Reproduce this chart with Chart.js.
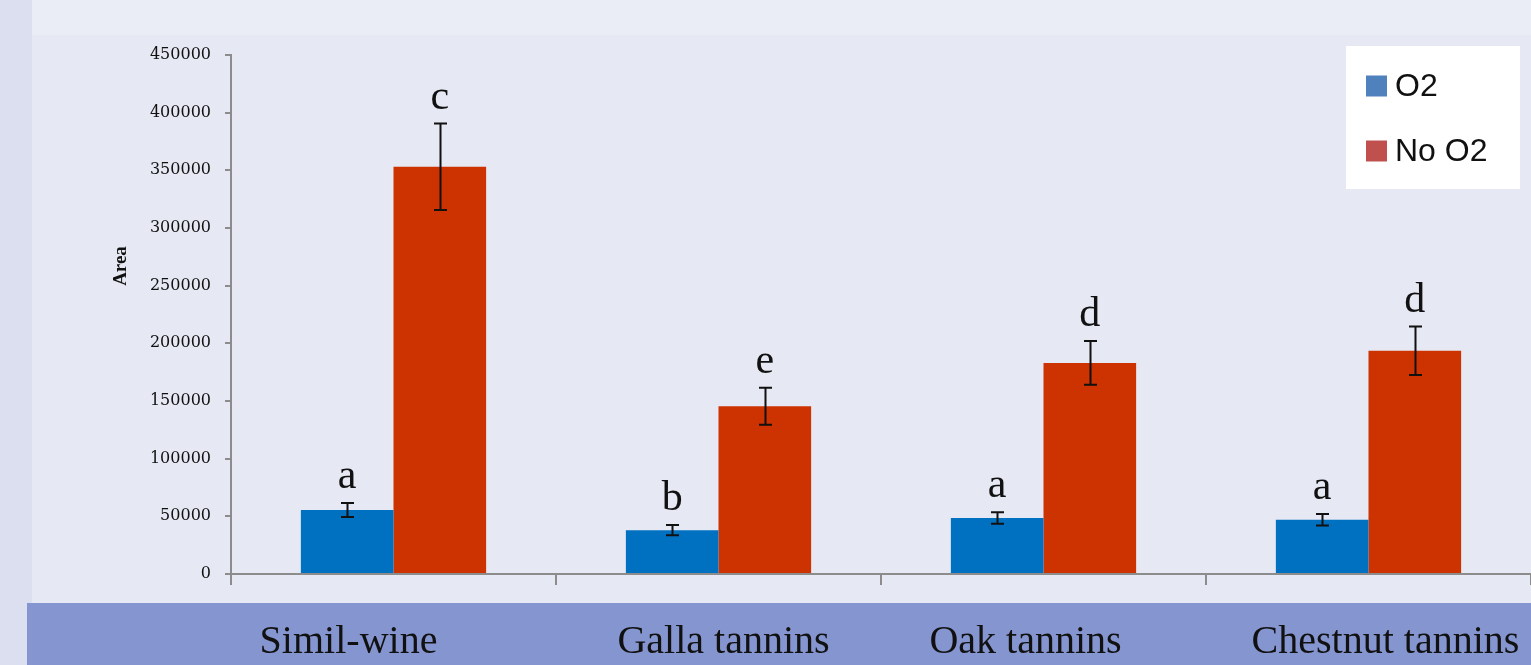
<!DOCTYPE html>
<html>
<head>
<meta charset="utf-8">
<script src="https://cdn.jsdelivr.net/npm/chart.js@4/dist/chart.umd.min.js"></script>
<style>
  html, body { margin: 0; padding: 0; background: #e6e8f3; }
  #wrap { width: 1531px; height: 665px; position: relative; }
</style>
</head>
<body>
<div id="wrap"><canvas id="c" width="1531" height="665"></canvas></div>
<script>
// Peak area per treatment, with and without oxygen
const categories = ['Simil-wine', 'Galla tannins', 'Oak tannins', 'Chestnut tannins'];
const o2Values = [55500, 38000, 48500, 47000];
const noO2Values = [353000, 145500, 183000, 193500];
const o2Errors = [6000, 4500, 5000, 5000];
const noO2Errors = [37500, 16000, 19000, 21000];
const o2Letters = ['a', 'b', 'a', 'a'];
const noO2Letters = ['c', 'e', 'd', 'd'];
const yTicks = [0, 50000, 100000, 150000, 200000, 250000, 300000, 350000, 400000, 450000];

const AXIS = '#8c8c8c';

// Page background, the slide panels and the category band
const backdrop = {
  id: 'backdrop',
  beforeDraw(chart) {
    const ctx = chart.ctx;
    const W = chart.width, H = chart.height;
    ctx.save();
    ctx.fillStyle = '#dcdfef';
    ctx.fillRect(0, 0, W, H);
    ctx.fillStyle = '#eaecf6';
    ctx.fillRect(32, 0, W - 32, 35);
    ctx.fillStyle = '#e6e8f3';
    ctx.fillRect(32, 35, W - 32, H - 35);
    ctx.fillStyle = '#8595cf';
    ctx.fillRect(27, 603, W - 27, H - 603);
    ctx.restore();
  }
};

// Error bars and significance letters above each bar
const errorBars = {
  id: 'errorBars',
  afterDatasetsDraw(chart) {
    const ctx = chart.ctx;
    const y = chart.scales.y;
    ctx.save();
    chart.data.datasets.forEach((ds, di) => {
      const meta = chart.getDatasetMeta(di);
      meta.data.forEach((bar, i) => {
        const v = ds.data[i], e = ds.errors[i];
        const top = y.getPixelForValue(v + e);
        const bot = y.getPixelForValue(v - e);
        const x = Math.round(bar.x) + 0.5;
        ctx.strokeStyle = '#111';
        ctx.lineWidth = 2;
        ctx.beginPath();
        ctx.moveTo(x, top); ctx.lineTo(x, bot);
        ctx.moveTo(x - 6.5, top); ctx.lineTo(x + 6.5, top);
        ctx.moveTo(x - 6.5, bot); ctx.lineTo(x + 6.5, bot);
        ctx.stroke();
        ctx.fillStyle = '#111';
        ctx.font = '42px "Liberation Serif"';
        ctx.textAlign = 'center';
        ctx.textBaseline = 'alphabetic';
        ctx.fillText(ds.letters[i], bar.x, top - 15);
      });
    });
    ctx.restore();
  }
};

// Axis title, category names in the band, and the legend box
const decorations = {
  id: 'decorations',
  afterDraw(chart) {
    const ctx = chart.ctx;
    const x = chart.scales.x;
    ctx.save();
    // y-axis title
    ctx.translate(121, 266);
    ctx.rotate(-Math.PI / 2);
    ctx.fillStyle = '#111';
    ctx.font = 'bold 19px "Liberation Serif"';
    ctx.textAlign = 'center';
    ctx.textBaseline = 'middle';
    ctx.fillText('Area', 0, 0);
    ctx.restore();

    // category names
    const shift = [-45, 5, -18, 17];
    ctx.save();
    ctx.fillStyle = '#111';
    ctx.font = '40px "Liberation Serif"';
    ctx.textAlign = 'center';
    ctx.textBaseline = 'alphabetic';
    categories.forEach((c, i) => {
      ctx.fillText(c, x.getPixelForValue(i) + shift[i], 653);
    });
    ctx.restore();

    // legend
    ctx.save();
    ctx.fillStyle = '#ffffff';
    ctx.fillRect(1346, 46, 174, 143);
    const items = [['O2', '#4f81bd', 86], ['No O2', '#c0504d', 151]];
    ctx.font = '32px "Liberation Sans"';
    ctx.textAlign = 'left';
    ctx.textBaseline = 'middle';
    items.forEach(([label, col, cy]) => {
      ctx.fillStyle = col;
      ctx.fillRect(1366, cy - 10.5, 21, 21);
      ctx.fillStyle = '#111';
      ctx.fillText(label, 1395, cy + 1);
    });
    ctx.restore();
  }
};

new Chart(document.getElementById('c'), {
  type: 'bar',
  data: {
    labels: categories,
    datasets: [
      { label: 'O2', data: o2Values, errors: o2Errors, letters: o2Letters,
        backgroundColor: '#0070c0', borderWidth: 0 },
      { label: 'No O2', data: noO2Values, errors: noO2Errors, letters: noO2Letters,
        backgroundColor: '#cc3300', borderWidth: 0 }
    ]
  },
  options: {
    responsive: false,
    animation: false,
    devicePixelRatio: 1,
    layout: { padding: { top: 55, right: 0, bottom: 0, left: 0 } },
    datasets: { bar: { categoryPercentage: 0.57, barPercentage: 1.0 } },
    plugins: { legend: { display: false }, tooltip: { enabled: false } },
    scales: {
      x: {
        afterFit(s) { s.height = 91; },
        grid: { display: true, drawOnChartArea: false, drawTicks: true, tickLength: 11,
                color: AXIS, lineWidth: 2, offset: true },
        border: { display: true, color: AXIS, width: 2 },
        ticks: { display: false }
      },
      y: {
        min: 0, max: 450000,
        afterFit(s) { s.width = 231; },
        afterBuildTicks(s) { s.ticks = yTicks.map(v => ({ value: v })); },
        grid: { display: true, drawOnChartArea: false, drawTicks: true, tickLength: 6,
                color: AXIS, lineWidth: 2 },
        border: { display: true, color: AXIS, width: 2 },
        ticks: { padding: 14, color: '#111', font: { family: 'DejaVu Serif', size: 16 },
                 callback: v => String(v) }
      }
    }
  },
  plugins: [backdrop, errorBars, decorations]
});
</script>
</body>
</html>
